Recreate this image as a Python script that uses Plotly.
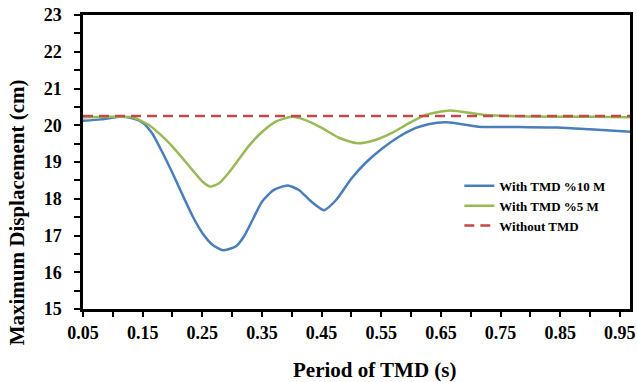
import plotly.graph_objects as go

# Maximum displacement (cm) against TMD period (s)
period_10m = [0.05, 0.08, 0.111, 0.133, 0.15, 0.165, 0.18, 0.20, 0.217, 0.2336,
              0.25, 0.267, 0.284, 0.306, 0.32, 0.335, 0.35, 0.37, 0.393, 0.412,
              0.432, 0.454, 0.475, 0.50, 0.524, 0.551, 0.579, 0.607, 0.629, 0.66,
              0.713, 0.78, 0.846, 0.90, 0.967]
disp_10m = [20.12, 20.16, 20.23, 20.19, 20.07, 19.80, 19.36, 18.70, 18.10, 17.53,
            17.07, 16.75, 16.60, 16.70, 16.98, 17.45, 17.92, 18.24, 18.36, 18.24,
            17.93, 17.69, 17.98, 18.55, 18.98, 19.36, 19.68, 19.92, 20.03, 20.08,
            19.96, 19.95, 19.94, 19.89, 19.82]

period_5m = [0.05, 0.10, 0.133, 0.161, 0.1835, 0.20, 0.217, 0.2336, 0.25, 0.264,
             0.278, 0.295, 0.3116, 0.328, 0.351, 0.373, 0.401, 0.423, 0.451, 0.479,
             0.51, 0.54, 0.568, 0.596, 0.624, 0.665, 0.724, 0.80, 0.90, 0.967]
disp_5m = [20.22, 20.23, 20.22, 20.00, 19.69, 19.42, 19.10, 18.78, 18.47, 18.33,
           18.42, 18.72, 19.08, 19.44, 19.83, 20.10, 20.23, 20.14, 19.92, 19.66,
           19.51, 19.60, 19.79, 20.05, 20.28, 20.40, 20.28, 20.24, 20.23, 20.22]

period_none = [0.05, 0.967]
disp_none = [20.25, 20.25]

names = ["With TMD %10 M", "With TMD %5 M", "Without TMD"]
colors = ["#4a7ebb", "#98b954", "#be4b48"]

x_title = "Period of TMD (s)"
y_title = "Maximum Displacement (cm)"

x_range = [0.05, 0.967]
y_range = [15, 23]

FONT = "Liberation Serif"

fig = go.Figure()
fig.add_trace(go.Scatter(x=period_10m, y=disp_10m, mode="lines", name=names[0],
                         line=dict(color=colors[0], width=2.5, shape="spline", smoothing=0.6)))
fig.add_trace(go.Scatter(x=period_5m, y=disp_5m, mode="lines", name=names[1],
                         line=dict(color=colors[1], width=2.5, shape="spline", smoothing=0.6)))
fig.add_trace(go.Scatter(x=period_none, y=disp_none, mode="lines", name=names[2],
                         line=dict(color=colors[2], width=2.5, dash="10px,6px")))

tick_font = dict(family=FONT, size=18, color="black", weight="bold")
title_font = dict(family=FONT, size=21, color="black", weight="bold")

fig.update_layout(
    width=637, height=382,
    margin=dict(l=83, r=7, t=15, b=73),
    paper_bgcolor="white", plot_bgcolor="white",
    showlegend=True,
    legend=dict(x=0.688, y=0.47, xanchor="left", yanchor="top",
                bgcolor="rgba(0,0,0,0)", borderwidth=0,
                font=dict(family=FONT, size=13, color="black", weight="bold"),
                tracegroupgap=2, itemwidth=30),
    xaxis=dict(
        range=x_range, tick0=0.05, dtick=0.1, tickformat=".2f",
        automargin=False, ticklabeloverflow="allow",
        showgrid=False, zeroline=False,
        showline=True, linecolor="black", linewidth=2.5, mirror=True,
        ticks="outside", ticklen=5, tickwidth=1.5, tickcolor="black",
        minor=dict(dtick=0.05, tick0=0.05, ticks="outside", ticklen=5,
                   tickwidth=1.5, tickcolor="black", showgrid=False),
        tickfont=tick_font, ticklabelstandoff=1,
    ),
    yaxis=dict(
        range=y_range, tick0=15, dtick=1,
        automargin=False,
        showgrid=False, zeroline=False,
        showline=True, linecolor="black", linewidth=2.5, mirror=True,
        ticks="outside", ticklen=6, tickwidth=1.5, tickcolor="black",
        minor=dict(dtick=0.5, ticks="outside", ticklen=6,
                   tickwidth=1.5, tickcolor="black", showgrid=False),
        tickfont=tick_font, ticklabelstandoff=9,
    ),
    # inner half of the cross-style tick marks on the value axis
    yaxis2=dict(
        range=y_range, overlaying="y", side="left", anchor="x",
        automargin=False,
        tick0=15, dtick=0.5, showticklabels=False,
        showgrid=False, zeroline=False, showline=False,
        ticks="inside", ticklen=5, tickwidth=1.5, tickcolor="black",
    ),
    annotations=[
        dict(text=x_title, xref="paper", yref="paper", x=0.534, y=-0.2075,
             xanchor="center", yanchor="middle", showarrow=False, font=title_font),
        dict(text=y_title, xref="paper", yref="paper", x=-0.12, y=0.33,
             xanchor="center", yanchor="middle", textangle=-90, showarrow=False,
             font=title_font),
    ],
)

fig.write_html("out.html")
